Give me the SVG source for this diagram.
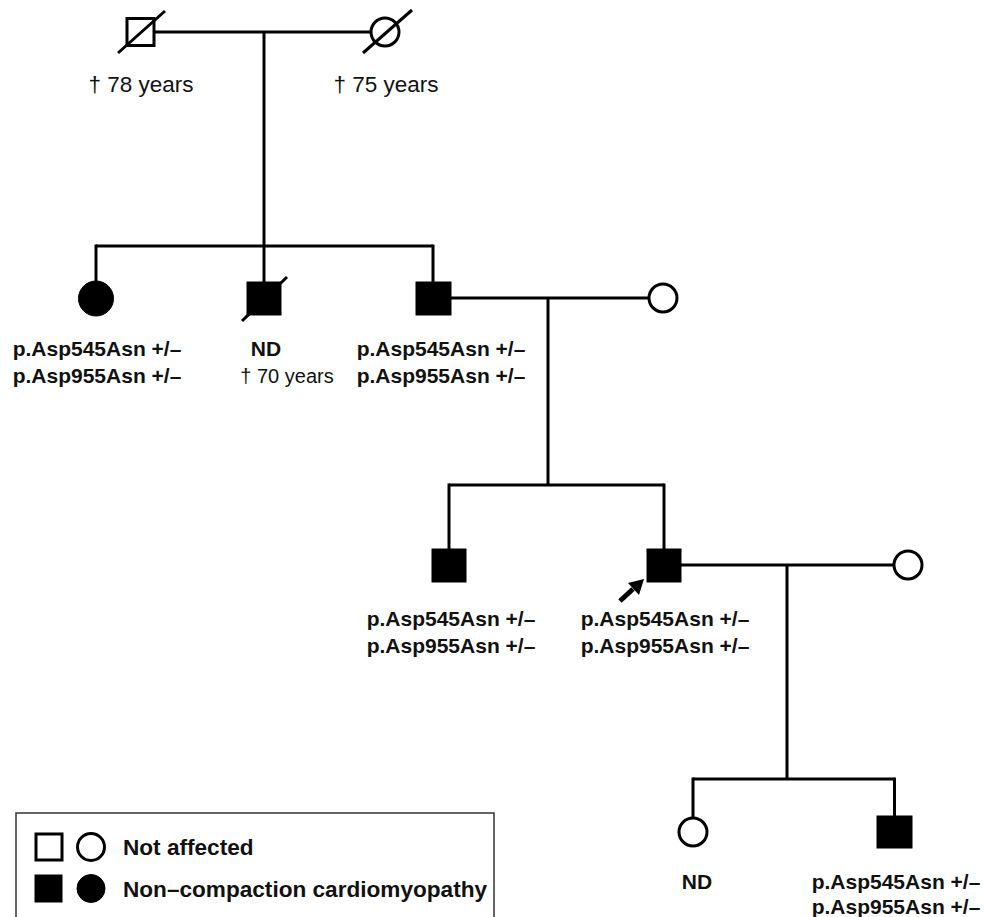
<svg xmlns="http://www.w3.org/2000/svg" width="984" height="917" viewBox="0 0 984 917">
<style>
.ln{stroke:#000;stroke-width:3;fill:none}
.open{fill:#fff;stroke:#000;stroke-width:3}
.fill{fill:#000;stroke:#000;stroke-width:1}
.sl{stroke:#000;stroke-width:3}
.lab{font-family:"Liberation Sans",Arial,sans-serif;font-size:21px;font-weight:bold;text-anchor:middle;fill:#111}
.yr1{font-family:"Liberation Sans",Arial,sans-serif;font-size:22.5px;text-anchor:middle;fill:#111}
.yr2{font-family:"Liberation Sans",Arial,sans-serif;font-size:20px;text-anchor:middle;fill:#111}
.leg{font-family:"Liberation Sans",Arial,sans-serif;font-size:22.6px;font-weight:bold;fill:#111}
</style>
<rect width="984" height="917" fill="#fff"/>
<g id="connectors">
<line class="ln" x1="154" y1="32" x2="371" y2="32"/>
<line class="ln" x1="264" y1="32" x2="264" y2="282"/>
<line class="ln" x1="96" y1="246" x2="433" y2="246"/>
<line class="ln" x1="96" y1="244.5" x2="96" y2="281"/>
<line class="ln" x1="433" y1="244.5" x2="433" y2="282"/>
<line class="ln" x1="451" y1="298" x2="649" y2="298"/>
<line class="ln" x1="548" y1="298" x2="548" y2="485"/>
<line class="ln" x1="449" y1="485" x2="664" y2="485"/>
<line class="ln" x1="449" y1="483.5" x2="449" y2="549"/>
<line class="ln" x1="664" y1="483.5" x2="664" y2="549"/>
<line class="ln" x1="681" y1="565" x2="894" y2="565"/>
<line class="ln" x1="787" y1="565" x2="787" y2="779"/>
<line class="ln" x1="693" y1="779" x2="894.5" y2="779"/>
<line class="ln" x1="693" y1="777.5" x2="693" y2="818"/>
<line class="ln" x1="894.5" y1="777.5" x2="894.5" y2="816"/>
</g>
<g id="grandfather">
<rect class="open" x="127" y="18.5" width="27" height="27"/>
<line class="sl" x1="118" y1="53" x2="165" y2="11"/>
<text class="yr1" x="141" y="92">† 78 years</text>
</g>
<g id="grandmother">
<circle class="open" cx="385" cy="32" r="14"/>
<line class="sl" x1="363" y1="53" x2="412" y2="10"/>
<text class="yr1" x="386" y="92">† 75 years</text>
</g>
<g id="aunt">
<circle class="fill" cx="96" cy="298.5" r="17.5"/>
<text class="lab" x="97" y="356">p.Asp545Asn +/–</text>
<text class="lab" x="97" y="383">p.Asp955Asn +/–</text>
</g>
<g id="uncle">
<rect class="fill" x="247" y="282" width="34" height="33"/>
<line class="sl" x1="242" y1="321" x2="287" y2="277"/>
<text class="lab" x="266" y="356">ND</text>
<text class="yr2" x="287" y="383">† 70 years</text>
</g>
<g id="father">
<rect class="fill" x="416" y="282" width="35" height="33"/>
<text class="lab" x="441" y="356">p.Asp545Asn +/–</text>
<text class="lab" x="441" y="383">p.Asp955Asn +/–</text>
</g>
<g id="mother">
<circle class="open" cx="663" cy="298" r="14"/>
</g>
<g id="brother">
<rect class="fill" x="432" y="549" width="34" height="33"/>
<text class="lab" x="451" y="626">p.Asp545Asn +/–</text>
<text class="lab" x="451" y="653">p.Asp955Asn +/–</text>
</g>
<g id="proband">
<rect class="fill" x="647" y="549" width="34" height="33"/>
<line x1="620" y1="601" x2="633" y2="589" stroke="#000" stroke-width="5"/>
<polygon points="644,579 628,583 639,595" fill="#000"/>
<text class="lab" x="665" y="626">p.Asp545Asn +/–</text>
<text class="lab" x="665" y="653">p.Asp955Asn +/–</text>
</g>
<g id="wife">
<circle class="open" cx="908" cy="565" r="14"/>
</g>
<g id="daughter">
<circle class="open" cx="693" cy="832" r="14"/>
<text class="lab" x="697" y="889">ND</text>
</g>
<g id="son">
<rect class="fill" x="877" y="816" width="35" height="32"/>
<text class="lab" x="896" y="889">p.Asp545Asn +/–</text>
<text class="lab" x="896" y="914">p.Asp955Asn +/–</text>
</g>
<g id="legend">
<rect x="16" y="813" width="478" height="130" fill="none" stroke="#333" stroke-width="1.5"/>
<rect class="open" x="36" y="834" width="26" height="26"/>
<circle class="open" cx="91" cy="847" r="13.5"/>
<rect class="fill" x="35" y="875" width="27" height="27"/>
<circle class="fill" cx="91" cy="888.5" r="14"/>
<text class="leg" x="123" y="855">Not affected</text>
<text class="leg" x="123" y="897">Non–compaction cardiomyopathy</text>
</g>
</svg>
